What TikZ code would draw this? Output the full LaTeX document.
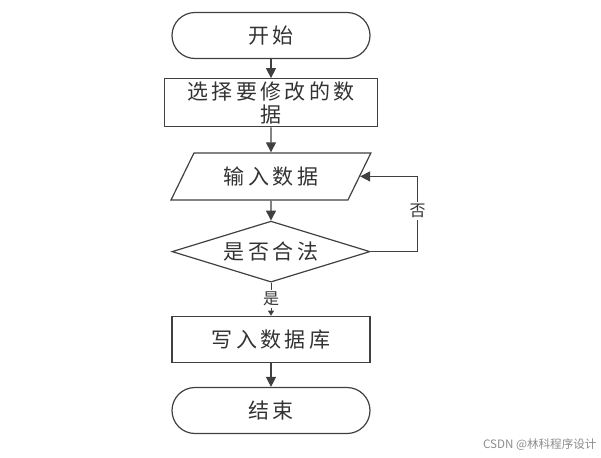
\documentclass[tikz,border=0pt]{standalone}
\usepackage{fontspec}
\newfontfamily\cjk[LetterSpace=16]{Noto Sans CJK SC}
\newfontfamily\cjkplain{Noto Sans CJK SC}
\usetikzlibrary{positioning, shapes.geometric, arrows.meta}
\definecolor{linegray}{HTML}{404040}
\definecolor{textgray}{HTML}{333333}
\tikzset{
    terminal/.style = {rectangle, rounded corners = 11.5pt, draw = linegray, line width = 0.6pt, minimum width = 99pt, minimum height = 23pt, text = textgray},
    process/.style = {rectangle, draw = linegray, line width = 0.6pt, minimum width = 99pt, minimum height = 23pt, inner ysep = 0.5pt, align = center, text = textgray},
    io/.style = {trapezium, trapezium left angle = 64, trapezium right angle = 116, draw = linegray, line width = 0.6pt, minimum width = 99pt, minimum height = 23.5pt, text = textgray},
    decision/.style = {diamond, aspect = 3.2, draw = linegray, line width = 0.6pt, minimum width = 99pt, minimum height = 30.5pt, inner sep = 0pt, text = textgray},
    arr/.style = {draw = linegray, line width = 0.7pt, -{Triangle[length = 5pt, width = 5pt]}},
    thinarr/.style = {draw = linegray, line width = 0.4pt, -{Triangle[length = 2.5pt, width = 3pt]}},
    lbl/.style = {fill = white, text = textgray, inner sep = 1pt, font = \cjkplain\fontsize{8}{8}\selectfont},
    every node/.append style = {font = \cjk\fontsize{10.5}{11.5}\selectfont}
}

\begin{document}
\begin{tikzpicture}[x = 0.5pt, y = -0.5pt]
    \useasboundingbox (0, 0) rectangle (601, 457);
    % main column
    \node [terminal] (start) at (271, 35.5) {开始};
    \node [process, minimum width = 106.5pt, minimum height = 24pt, below = 9.5pt of start] (select) {选择要修改的数\\据};
    \node [io, below = 12.5pt of select] (input) {输入数据};
    \node [decision, below = 10pt of input] (check) {是否合法};
    \node [process, below = 16.5pt of check] (write) {写入数据库};
    \node [terminal, below = 12pt of write] (stop) {结束};
    % connectors
    \draw [arr] (start) -- (select);
    \draw [arr] (select) -- (input);
    \draw [arr] (input) -- (check);
    \draw [thinarr] (check) -- node [lbl] {是} (write);
    \draw [arr] (write) -- (stop);
    % back to input
    \coordinate [right = 23.5pt of check.east] (turn);
    \draw [arr] (check.east) -- (turn) |- node [lbl, pos = 0.27] {否} (input.east);
    % watermark
    \node [anchor = east, inner sep = 0pt, text = black!45, font = \cjkplain\fontsize{5.8}{6}\selectfont] (mark) at (597, 445) {CSDN @林科程序设计};
\end{tikzpicture}
\end{document}
